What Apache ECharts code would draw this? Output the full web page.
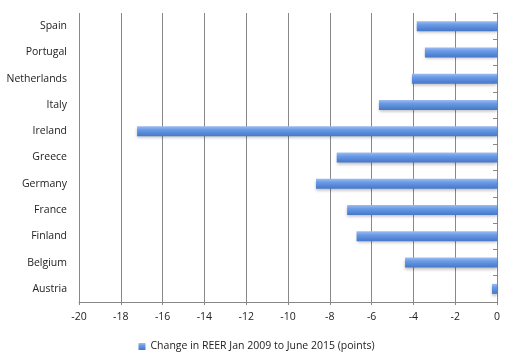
<!DOCTYPE html>
<html><head><meta charset="utf-8">
<script src="https://cdn.jsdelivr.net/npm/echarts@6/dist/echarts.min.js"></script>
<style>html,body{margin:0;padding:0;background:#fff}#c{width:513px;height:362px}</style>
</head><body><div id="c"></div>
<script>
const categories = ['Spain','Portugal','Netherlands','Italy','Ireland','Greece','Germany','France','Finland','Belgium','Austria'];
const values = [-3.84,-3.45,-4.07,-5.65,-17.22,-7.67,-8.66,-7.17,-6.72,-4.40,-0.24];
const xTicks = [-20,-18,-16,-14,-12,-10,-8,-6,-4,-2,0];
const seriesName = 'Change in REER Jan 2009 to June 2015 (points)';
const font = '"Open Sans", "Liberation Sans", Arial, sans-serif';
const chart = echarts.init(document.getElementById('c'));
chart.setOption({
  animation:false,
  grid:{left:79,right:16,top:13,bottom:60},
  legend:{top:336,left:'center',icon:'rect',itemWidth:7,itemHeight:7,itemGap:3,
    textStyle:{fontFamily:font,fontSize:10.5,color:'#222'},data:[seriesName]},
  xAxis:{type:'value',min:xTicks[0],max:xTicks[xTicks.length-1],interval:2,
    axisLine:{show:true,lineStyle:{color:'#888'}},
    axisTick:{show:true,length:3,lineStyle:{color:'#888'}},
    axisLabel:{fontFamily:font,fontSize:10.5,color:'#222',margin:10},
    splitLine:{show:true,lineStyle:{color:'#888',width:1}}},
  yAxis:[{type:'category',data:categories,inverse:true,position:'left',
    axisLine:{show:false},axisTick:{show:false},
    axisLabel:{fontFamily:font,fontSize:10.5,color:'#222',margin:12,padding:[3,0,0,0]}},
   {type:'category',data:categories,inverse:true,position:'right',
    axisLine:{show:true,lineStyle:{color:'#888'}},
    axisTick:{show:true,inside:true,length:4,lineStyle:{color:'#888'}},
    axisLabel:{show:false}}],
  series:[{name:seriesName,type:'bar',data:values,barWidth:10,yAxisIndex:0,
    itemStyle:{color:new echarts.graphic.LinearGradient(0,0,0,1,[
      {offset:0,color:'#9dbdf0'},{offset:0.35,color:'#6a9be6'},{offset:1,color:'#4677c9'}]),
      shadowColor:'rgba(0,0,0,0.25)',shadowBlur:3,shadowOffsetY:2}}]
});
</script></body></html>
